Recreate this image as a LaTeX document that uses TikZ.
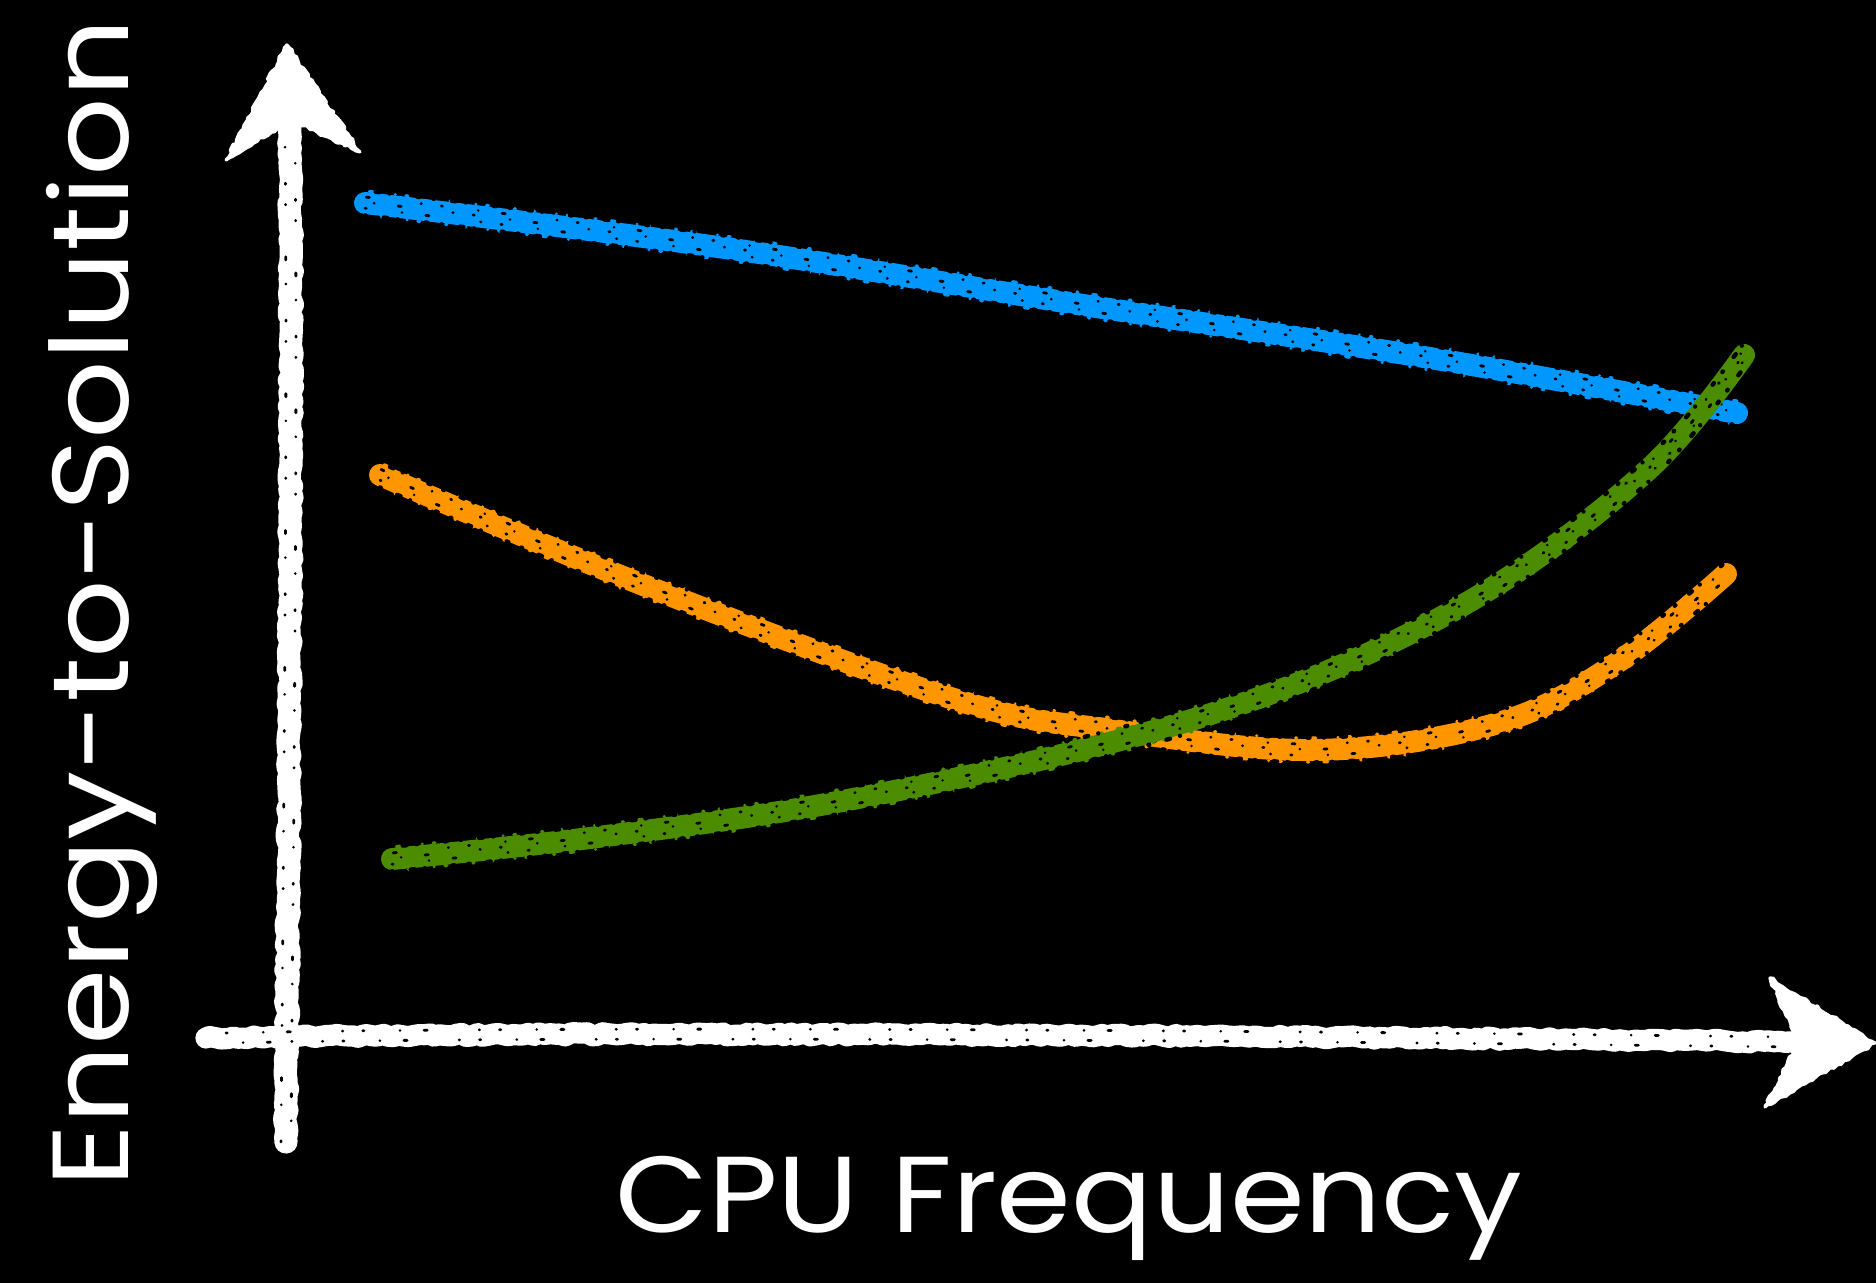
\documentclass[tikz,border=0pt]{standalone}
\usepackage{fontspec}
\setmainfont{Poppins}
\usetikzlibrary{decorations.pathmorphing}
\definecolor{chalkblue}{RGB}{0,152,255}
\definecolor{chalkorange}{RGB}{255,150,0}
\definecolor{chalkgreen}{RGB}{76,140,0}
\begin{document}
\begin{tikzpicture}[x=0.25pt,y=-0.25pt,
  chalk/.style={line width=5.5pt, line cap=round, line join=round,
    decorate, decoration={random steps, segment length=1.3pt, amplitude=0.4pt}},
  stroke/.style={line width=5.5pt, line cap=round, line join=round},
  speck/.style={draw=black, line width=0.7pt, line cap=round,
    dash pattern=on 0.3pt off 9pt on 0pt off 6pt on 0.8pt off 13pt on 0.1pt off 5pt},
  edge/.style={draw=black, line width=1.1pt, line cap=round,
    dash pattern=on 0.2pt off 4.5pt on 0.9pt off 2.6pt on 0pt off 7pt on 0.5pt off 3.5pt},
  bump/.style={line width=0.8pt, line cap=round,
    dash pattern=on 0.3pt off 3.8pt on 1pt off 5.5pt on 0pt off 2.7pt on 0.5pt off 6.5pt},
  chalkhead/.style={fill=white, draw=white, line width=0.8pt, line join=round,
    decorate, decoration={random steps, segment length=1pt, amplitude=0.4pt}},
  label/.style={text=white, font=\fontsize{27}{27}\selectfont, inner sep=0pt}]
\pgfmathsetseed{7}
% board
\fill[black] (0,0) rectangle (1876,1283);
\useasboundingbox (0,0) rectangle (1876,1283);

% curve data
\def\bluecurve{(365,203) (718,247) (1077,304) (1436,359) (1737,413)}
\def\orangecurve{(380,475) (646,586) (957,700) (1113,730) (1316,750) (1495,724) (1615,664) (1726,574)}
\def\greencurve{(392,859) (598,837) (837,802) (1113,742) (1316,676) (1495,586) (1651,467) (1744,355)}

% axes
\coordinate (ybot) at (286,1142);
\coordinate (ytop) at (290,128);
\coordinate (xleft) at (206,1038);
\coordinate (xright) at (1802,1042);
\draw[chalk, white, line width=5.8pt] (ybot) .. controls (288,900) and (293,400) .. (ytop);
\fill[chalkhead] (287,45) -- (360,152) -- (291,120) -- (226,160) -- cycle;
\draw[chalk, white, line width=5.3pt] (xleft) .. controls (600,1030) and (1300,1036) .. (xright);
\fill[chalkhead] (1875,1043) -- (1765,1107) -- (1798,1042) -- (1770,978) -- cycle;
\draw[speck] (281,1142) .. controls (283,900) and (288,400) .. (285,140);
\draw[speck, dash phase=4pt] (291,1142) .. controls (293,900) and (298,400) .. (295,140);
\draw[speck] (226,1033) .. controls (600,1025) and (1300,1031) .. (1790,1037);
\draw[speck, dash phase=5pt] (226,1043) .. controls (600,1035) and (1300,1041) .. (1790,1047);

% series
\foreach \crv/\col in {\bluecurve/chalkblue, \orangecurve/chalkorange, \greencurve/chalkgreen}{
  \draw[stroke, \col] plot[smooth, tension=0.6] coordinates {\crv};
  % ragged outer rim
  \draw[bump, \col, yshift=-3pt] plot[smooth, tension=0.6] coordinates {\crv};
  \draw[bump, \col, yshift=3pt, dash phase=3pt] plot[smooth, tension=0.6] coordinates {\crv};
  % bites into the rim
  \draw[edge, yshift=-3.1pt] plot[smooth, tension=0.6] coordinates {\crv};
  \draw[edge, yshift=3.1pt, dash phase=2pt] plot[smooth, tension=0.6] coordinates {\crv};
  % grain inside the stroke
  \draw[speck, yshift=-1.3pt] plot[smooth, tension=0.6] coordinates {\crv};
  \draw[speck, yshift=0.2pt, dash phase=7pt] plot[smooth, tension=0.6] coordinates {\crv};
  \draw[speck, yshift=1.5pt, dash phase=15pt] plot[smooth, tension=0.6] coordinates {\crv};
}

% axis labels
\node[label, rotate=90, anchor=base] (ylabel) at (128,603) {\scalebox{1.14}[1]{Energy-to-Solution}};
\node[label, anchor=base] (xlabel) at (1069,1232) {\scalebox{1.115}[1]{CPU Frequency}};
\end{tikzpicture}
\end{document}
